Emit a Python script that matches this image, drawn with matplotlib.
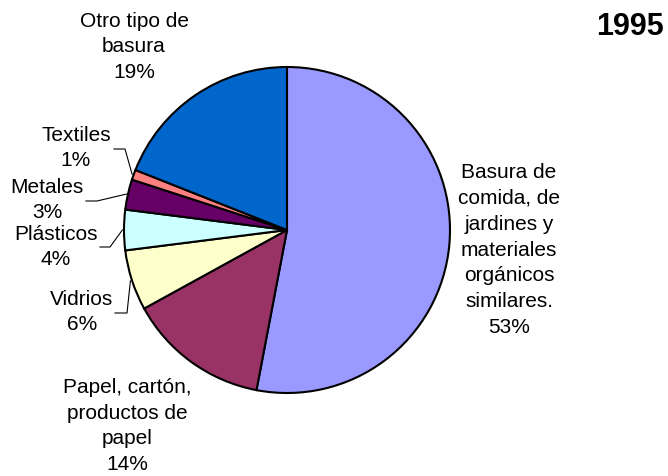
import matplotlib.pyplot as plt
import numpy as np

plt.rcParams['font.family'] = ['Liberation Sans', 'DejaVu Sans']

# Composición de la basura, 1995 (porcentajes)
categorias = ["Basura de\ncomida, de\njardines y\nmateriales\norgánicos\nsimilares.",
              "Papel, cartón,\nproductos de\npapel",
              "Vidrios", "Plásticos", "Metales", "Textiles",
              "Otro tipo de\nbasura"]
porcentajes = [53, 14, 6, 4, 3, 1, 19]
colores = ["#9999FF", "#993366", "#FFFFCC", "#CCFFFF", "#660066", "#FF8080", "#0066CC"]

W, H = 668, 476
fig = plt.figure(figsize=(W / 100, H / 100), dpi=100)
ax = fig.add_axes([0, 0, 1, 1])
ax.axis('off')

cx, cy, r = 287, H - 230, 163
wedges, _ = ax.pie(porcentajes, colors=colores, startangle=90, counterclock=False,
                   center=(cx, cy), radius=r,
                   wedgeprops=dict(edgecolor='black', linewidth=1.5))
ax.set_xlim(0, W)
ax.set_ylim(0, H)
ax.set_aspect('equal')

# posiciones de las etiquetas (en píxeles desde arriba) y codos de las guías
pos_etiquetas = [(509, 250), (127, 426), (82, 312), (56, 247), (47, 200), (76, 148), (134, 47)]
guias = {2: [(115, 313), (127, 313)],
         3: [(100, 247), (110, 247)],
         4: [(86, 201), (97, 201)],
         5: [(114, 149), (125, 149)]}

for i, (w, cat, p) in enumerate(zip(wedges, categorias, porcentajes)):
    x, y = pos_etiquetas[i]
    ax.text(x, H - y, f"{cat}\n{p}%", ha='center', va='center', fontsize=15,
            linespacing=1.45)
    if i in guias:
        ang = np.deg2rad((w.theta1 + w.theta2) / 2)
        ex, ey = cx + r * 1.01 * np.cos(ang), cy + r * 1.01 * np.sin(ang)
        pts = guias[i]
        xs = [pts[0][0], pts[1][0], ex]
        ys = [H - pts[0][1], H - pts[1][1], ey]
        ax.plot(xs, ys, color='black', linewidth=0.8)

ax.text(630, H - 27, "1995", ha='center', va='center', fontsize=22, fontweight='bold')

fig.savefig("out.png", dpi=100)
